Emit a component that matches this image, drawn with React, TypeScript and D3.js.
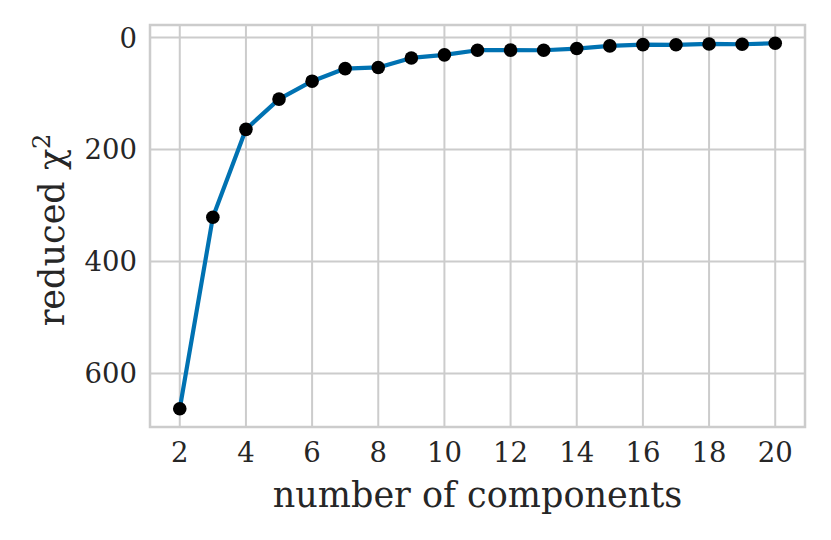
import React from 'react';
import * as d3 from 'd3';

// number of components vs reduced chi^2
const components = [2, 3, 4, 5, 6, 7, 8, 9, 10, 11, 12, 13, 14, 15, 16, 17, 18, 19, 20];
const chi2 = [663, 321, 164, 110, 78, 55.5, 53.5, 36.5, 31, 22.7, 22.5, 22.8, 19.7, 15, 12.7, 13, 11.5, 12, 10.3];
const xTicks = [2, 4, 6, 8, 10, 12, 14, 16, 18, 20];
const yTicks = [0, 200, 400, 600];

const W = 831;
const H = 540;
const margin = { top: 25, right: 26, bottom: 113, left: 150 };
const FONT = '"DejaVu Serif", serif';

const App = () => {
  const svgRef = React.useRef<SVGSVGElement>(null);

  React.useEffect(() => {
    const svg = d3.select(svgRef.current);
    svg.selectAll('*').remove();

    const width = W - margin.left - margin.right;
    const height = H - margin.top - margin.bottom;

    // matplotlib-ish 5% padding on both axes
    const xLo = d3.min(components)!, xHi = d3.max(components)!;
    const xPad = (xHi - xLo) * 0.05;
    const x = d3.scaleLinear().domain([xLo - xPad, xHi + xPad]).range([0, width]);

    const yLo = d3.min(chi2)!, yHi = d3.max(chi2)!;
    const yPad = (yHi - yLo) * 0.05;
    // inverted: 0 on top
    const y = d3.scaleLinear().domain([yLo - yPad, yHi + yPad]).range([0, height]);

    const g = svg.append('g').attr('transform', `translate(${margin.left},${margin.top})`);

    // grid
    g.append('g')
      .selectAll('line')
      .data(xTicks)
      .enter()
      .append('line')
      .attr('x1', (d) => x(d))
      .attr('x2', (d) => x(d))
      .attr('y1', 0)
      .attr('y2', height)
      .attr('stroke', '#cccccc')
      .attr('stroke-width', 2);

    g.append('g')
      .selectAll('line')
      .data(yTicks)
      .enter()
      .append('line')
      .attr('x1', 0)
      .attr('x2', width)
      .attr('y1', (d) => y(d))
      .attr('y2', (d) => y(d))
      .attr('stroke', '#cccccc')
      .attr('stroke-width', 2);

    // frame
    g.append('rect')
      .attr('x', 0)
      .attr('y', 0)
      .attr('width', width)
      .attr('height', height)
      .attr('fill', 'none')
      .attr('stroke', '#cccccc')
      .attr('stroke-width', 2.5);

    // tick labels
    g.append('g')
      .selectAll('text')
      .data(xTicks)
      .enter()
      .append('text')
      .attr('x', (d) => x(d))
      .attr('y', height + 35)
      .attr('text-anchor', 'middle')
      .attr('font-family', FONT)
      .attr('font-size', 27.5)
      .attr('fill', '#262626')
      .text((d) => d);

    g.append('g')
      .selectAll('text')
      .data(yTicks)
      .enter()
      .append('text')
      .attr('x', -13)
      .attr('y', (d) => y(d) + 10)
      .attr('text-anchor', 'end')
      .attr('font-family', FONT)
      .attr('font-size', 27.5)
      .attr('fill', '#262626')
      .text((d) => d);

    // line + markers
    const pts = components.map((c, i) => [c, chi2[i]] as [number, number]);
    const line = d3.line<[number, number]>()
      .x((d) => x(d[0]))
      .y((d) => y(d[1]));

    g.append('path')
      .datum(pts)
      .attr('d', line)
      .attr('fill', 'none')
      .attr('stroke', '#0072B2')
      .attr('stroke-width', 4.2)
      .attr('stroke-linejoin', 'round');

    g.append('g')
      .selectAll('circle')
      .data(pts)
      .enter()
      .append('circle')
      .attr('cx', (d) => x(d[0]))
      .attr('cy', (d) => y(d[1]))
      .attr('r', 6.8)
      .attr('fill', '#000');

    // axis labels
    svg.append('text')
      .attr('x', margin.left + width / 2)
      .attr('y', 507)
      .attr('text-anchor', 'middle')
      .attr('font-family', FONT)
      .attr('font-size', 35)
      .attr('fill', '#262626')
      .text('number of components');

    const yl = svg.append('text')
      .attr('transform', `translate(64,${margin.top + height / 2 + 4}) rotate(-90)`)
      .attr('text-anchor', 'middle')
      .attr('font-family', FONT)
      .attr('font-size', 35)
      .attr('fill', '#262626');
    yl.append('tspan').text('reduced χ');
    yl.append('tspan').attr('dy', -14).attr('font-size', 24).text('2');
  }, []);

  return (
    <svg
      ref={svgRef}
      width={W}
      height={H}
      style={{ position: 'absolute', left: 0, top: 0, background: '#fff' }}
    />
  );
};

export default App;
